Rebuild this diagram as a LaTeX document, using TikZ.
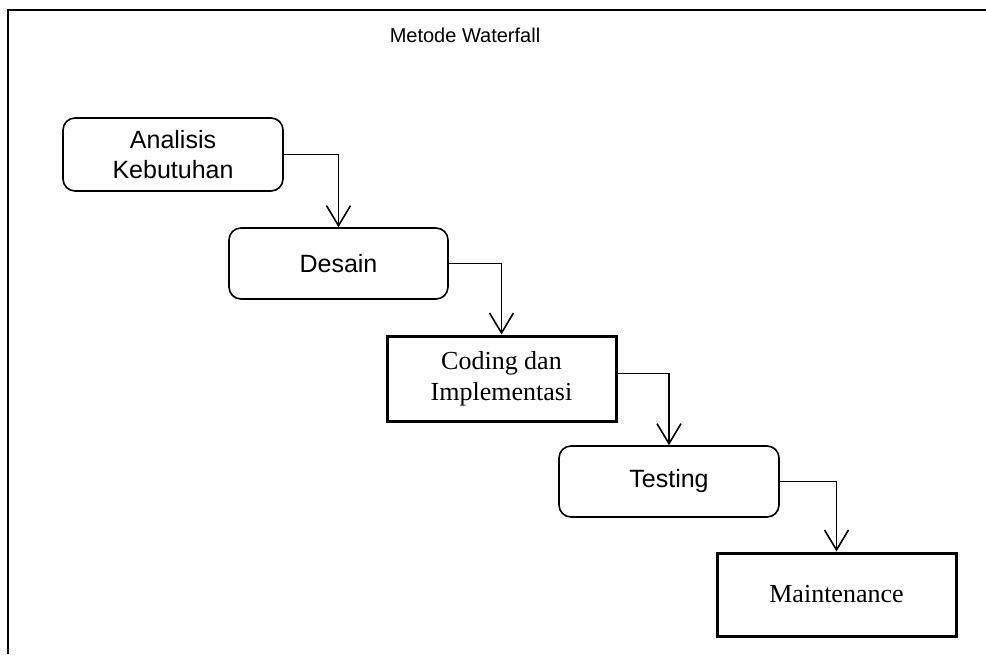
\documentclass[tikz,border=0pt]{standalone}
\usepackage{fontspec}
\setmainfont{Liberation Serif}
\setsansfont{Liberation Sans}
\usetikzlibrary{arrows.meta}

\begin{document}
\begin{tikzpicture}[x=1pt, y=-1pt,
		phase/.style = {draw, line width=1.6pt, rounded corners=12pt, inner sep=0pt, align=center,
			font=\sffamily\fontsize{25}{30}\selectfont},
		box/.style = {draw, line width=3pt, inner sep=0pt, align=center,
			font=\rmfamily\fontsize{26}{31}\selectfont},
		flow/.style = {line width=1.6pt, -{Straight Barb[length=20pt, width=24pt]}}]
		\useasboundingbox (0,0) rectangle (986,654);

		\draw[line width=2.4pt] (986,10) -| (8,654);
		\node[font=\sffamily\fontsize{20}{24}\selectfont] (title) at (465,35) {Metode Waterfall};

		\node[phase, minimum width=220pt, minimum height=73pt] (ana) at (173,154.5) {Analisis\\Kebutuhan};
		\node[phase, minimum width=219pt, minimum height=71pt] (des) at (338.5,263.5) {Desain};
		\node[box, minimum width=229pt, minimum height=85pt] (cod) at (501.5,378.5) {Coding dan\\Implementasi};
		\node[phase, minimum width=220pt, minimum height=71pt] (tes) at (669,481.5) {Testing};
		\node[box, minimum width=239pt, minimum height=83pt] (mai) at (836.5,594.5) {Maintenance};

		\draw[flow] (ana.east) -| (des.north);
		\draw[flow] (des.east) -| (cod.north);
		\draw[flow] ([yshift=5pt]cod.east) -| (tes.north);
		\draw[flow] (tes.east) -| (mai.north);
	\end{tikzpicture}
\end{document}
